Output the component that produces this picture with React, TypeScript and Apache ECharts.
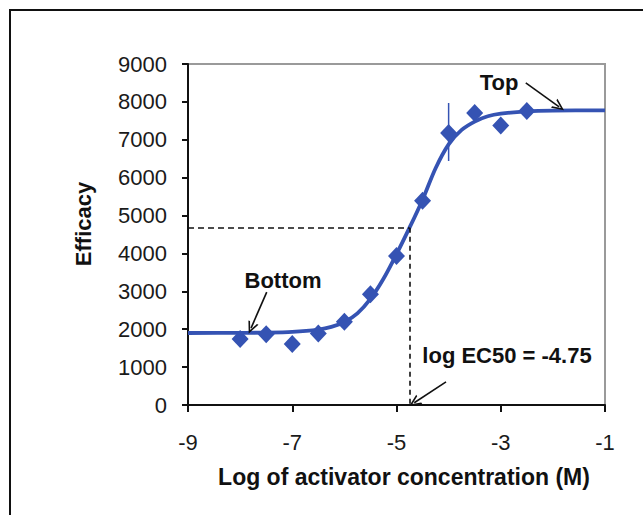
import React, { useEffect, useRef } from "react";
import * as echarts from "echarts";

// Measured points (log M, efficacy)
const pointX = [-8, -7.5, -7, -6.5, -6, -5.5, -5, -4.5, -4, -3.5, -3, -2.5];
const pointY = [1740, 1870, 1610, 1890, 2195, 2920, 3930, 5390, 7180, 7710, 7380, 7760];

// Error bar (only visible one)
const errX = [-4];
const errLow = [6440];
const errHigh = [7970];

// Fitted curve
const curveX = [-9, -8, -7.5, -7, -6.5, -6.25, -6, -5.75, -5.5, -5.25, -5, -4.75, -4.5, -4.25, -4, -3.75, -3.5, -3.25, -3, -2.5, -2, -1];
const curveY = [1900, 1905, 1910, 1930, 1990, 2060, 2190, 2420, 2800, 3330, 3980, 4680, 5420, 6250, 6880, 7260, 7480, 7620, 7690, 7750, 7770, 7775];

// EC50 guide
const ec50 = -4.75;
const halfEfficacy = 4680;

// Axis ticks
const xTicks = [-9, -7, -5, -3, -1];
const yTicks = [0, 1000, 2000, 3000, 4000, 5000, 6000, 7000, 8000, 9000];

// Annotation arrows in data coordinates: [fromX, fromY, toX, toY]
const arrowTop = [-2.52, 8500, -1.88, 7870];
const arrowBottom = [-7.49, 2980, -7.79, 2030];
const arrowEc50 = [-4.05, 610, -4.66, 60];

const BLUE = "#3553b3";
const FONT = "'Liberation Sans', Arial, sans-serif";
const CHEVRON = "path://M5,0 L10,10 L8.4,10 L5,3.2 L1.6,10 L0,10 Z";

export default function App() {
  const ref = useRef<HTMLDivElement>(null);

  useEffect(() => {
    document.body.style.margin = "0";
    const chart = echarts.init(ref.current!, null, { renderer: "svg" });

    const arrowLine = (a: number[]) => [
      { coord: [a[0], a[1]], symbol: "none" },
      { coord: [a[2], a[3]], symbol: CHEVRON, symbolSize: [11, 12] },
    ];

    chart.setOption({
      animation: false,
      backgroundColor: "#ffffff",
      grid: {
        left: 188,
        top: 64,
        width: 417,
        height: 341,
        show: true,
        borderColor: "#9a9a9a",
        borderWidth: 2,
        backgroundColor: "transparent",
      },
      xAxis: {
        type: "value",
        min: xTicks[0],
        max: xTicks[xTicks.length - 1],
        axisLine: { show: true, onZero: false, lineStyle: { color: "#111", width: 2 } },
        axisTick: { show: true, length: 7, customValues: xTicks, lineStyle: { color: "#111", width: 2 } },
        axisLabel: {
          customValues: xTicks,
          margin: 26,
          fontSize: 22,
          fontFamily: FONT,
          color: "#1a1a1a",
          formatter: (v: number) => String(v),
        },
        splitLine: { show: false },
      },
      yAxis: {
        type: "value",
        min: yTicks[0],
        max: yTicks[yTicks.length - 1],
        interval: 1000,
        axisLine: { show: true, lineStyle: { color: "#111", width: 2 } },
        axisTick: { show: true, length: 6, lineStyle: { color: "#111", width: 2 } },
        axisLabel: {
          margin: 21,
          fontSize: 22,
          fontFamily: FONT,
          color: "#1a1a1a",
          formatter: (v: number) => String(v),
        },
        splitLine: { show: false },
      },
      series: [
        {
          type: "line",
          data: curveX.map((x, i) => [x, curveY[i]]),
          smooth: 0.3,
          showSymbol: false,
          lineStyle: { color: BLUE, width: 3.8 },
          z: 2,
          markLine: {
            silent: true,
            symbol: "none",
            label: { show: false },
            lineStyle: { color: "#111", width: 1.6, type: [6, 4] },
            data: [
              [
                { coord: [xTicks[0], halfEfficacy] },
                { coord: [ec50, halfEfficacy] },
              ],
              [
                { coord: [ec50, halfEfficacy], lineStyle: { type: [5, 4] } },
                { coord: [ec50, 0] },
              ],
            ],
          },
        },
        {
          type: "custom",
          data: errX.map((x, i) => [x, errLow[i], errHigh[i]]),
          renderItem: (params: any, api: any) => {
            const p1 = api.coord([api.value(0), api.value(1)]);
            const p2 = api.coord([api.value(0), api.value(2)]);
            return {
              type: "line",
              shape: { x1: p1[0], y1: p1[1], x2: p2[0], y2: p2[1] },
              style: { stroke: BLUE, lineWidth: 1.5 },
            };
          },
          z: 3,
        },
        {
          type: "scatter",
          data: pointX.map((x, i) => [x, pointY[i]]),
          symbol: "diamond",
          symbolSize: [17, 18],
          itemStyle: { color: BLUE, opacity: 1 },
          z: 4,
          markLine: {
            silent: true,
            label: { show: false },
            lineStyle: { color: "#111", width: 1.6, type: "solid" },
            data: [arrowLine(arrowTop), arrowLine(arrowBottom), arrowLine(arrowEc50)],
          },
        },
      ],
      graphic: [
        {
          type: "rect",
          shape: { x: 10, y: 10, width: 700, height: 600 },
          style: { fill: "none", stroke: "#111", lineWidth: 2 },
          silent: true,
        },
        {
          type: "text",
          x: 83,
          y: 224,
          rotation: Math.PI / 2,
          style: {
            text: "Efficacy",
            font: `bold 22px ${FONT}`,
            fill: "#111",
            align: "center",
            verticalAlign: "middle",
          },
        },
        {
          type: "text",
          x: 404,
          y: 477,
          style: {
            text: "Log of activator concentration (M)",
            font: `bold 23px ${FONT}`,
            fill: "#111",
            align: "center",
            verticalAlign: "middle",
          },
        },
        {
          type: "text",
          x: 499,
          y: 82,
          style: {
            text: "Top",
            font: `bold 22px ${FONT}`,
            fill: "#111",
            align: "center",
            verticalAlign: "middle",
          },
        },
        {
          type: "text",
          x: 283,
          y: 280,
          style: {
            text: "Bottom",
            font: `bold 22px ${FONT}`,
            fill: "#111",
            align: "center",
            verticalAlign: "middle",
          },
        },
        {
          type: "text",
          x: 507,
          y: 355,
          style: {
            text: "log EC50 = -4.75",
            font: `bold 22px ${FONT}`,
            fill: "#111",
            align: "center",
            verticalAlign: "middle",
          },
        },
      ],
    });

    return () => {
      chart.dispose();
    };
  }, []);

  return <div ref={ref} style={{ width: 643, height: 515 }} />;
}
